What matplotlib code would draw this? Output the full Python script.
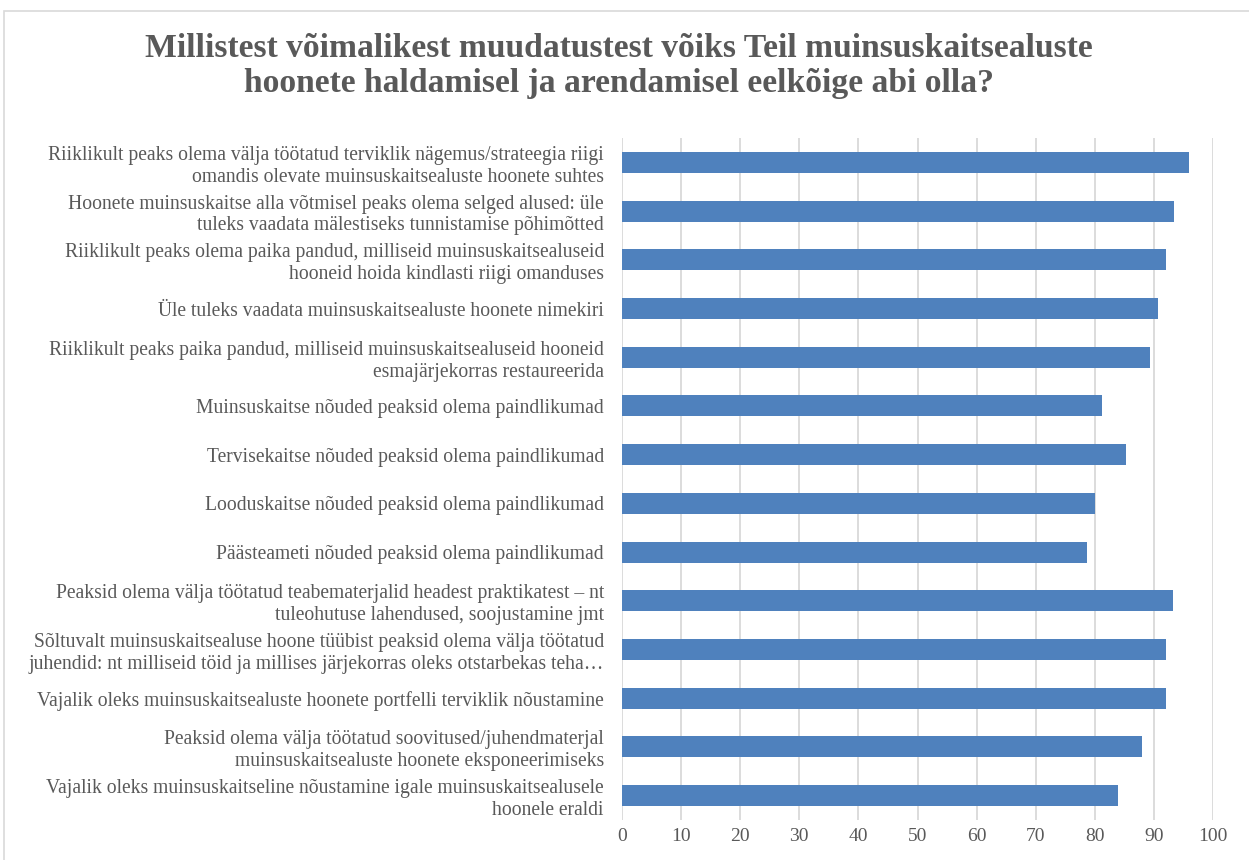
import matplotlib.pyplot as plt
from matplotlib.patches import Rectangle

categories = [
    "Riiklikult peaks olema välja töötatud terviklik nägemus/strateegia riigi\nomandis olevate muinsuskaitsealuste hoonete suhtes",
    "Hoonete muinsuskaitse alla võtmisel peaks olema selged alused: üle\ntuleks vaadata mälestiseks tunnistamise põhimõtted",
    "Riiklikult peaks olema paika pandud, milliseid muinsuskaitsealuseid\nhooneid hoida kindlasti riigi omanduses",
    "Üle tuleks vaadata muinsuskaitsealuste hoonete nimekiri",
    "Riiklikult peaks paika pandud, milliseid muinsuskaitsealuseid hooneid\nesmajärjekorras restaureerida",
    "Muinsuskaitse nõuded peaksid olema paindlikumad",
    "Tervisekaitse nõuded peaksid olema paindlikumad",
    "Looduskaitse nõuded peaksid olema paindlikumad",
    "Päästeameti nõuded peaksid olema paindlikumad",
    "Peaksid olema välja töötatud teabematerjalid headest praktikatest – nt\ntuleohutuse lahendused, soojustamine jmt",
    "Sõltuvalt muinsuskaitsealuse hoone tüübist peaksid olema välja töötatud\njuhendid: nt milliseid töid ja millises järjekorras oleks otstarbekas teha…",
    "Vajalik oleks muinsuskaitsealuste hoonete portfelli terviklik nõustamine",
    "Peaksid olema välja töötatud soovitused/juhendmaterjal\nmuinsuskaitsealuste hoonete eksponeerimiseks",
    "Vajalik oleks muinsuskaitseline nõustamine igale muinsuskaitsealusele\nhoonele eraldi",
]
values = [96.0, 93.4, 92.0, 90.7, 89.4, 81.2, 85.2, 80.0, 78.7, 93.3, 92.0, 92.0, 88.0, 84.0]
xticks = [0, 10, 20, 30, 40, 50, 60, 70, 80, 90, 100]
title = "Millistest võimalikest muudatustest võiks Teil muinsuskaitsealuste\nhoonete haldamisel ja arendamisel eelkõige abi olla?"

W, H = 1249, 860
fig = plt.figure(figsize=(W / 100, H / 100), dpi=100)
fig.patch.set_facecolor("white")

# chart frame
fig.add_artist(Rectangle((4 / W, -0.01), 1.1, (H - 11) / H + 0.01, transform=fig.transFigure,
                         fill=False, edgecolor="#D9D9D9", linewidth=1.2))

left, right = 622 / W, 1213 / W
bottom, top = 1 - 820 / H, 1 - 138 / H
ax = fig.add_axes([left, bottom, right - left, top - bottom])

text_color = "#595959"
serif = ["Liberation Serif", "DejaVu Serif"]

y = list(range(len(categories)))
ax.barh(y, values, height=0.43, color="#4F81BD", zorder=3)
ax.set_ylim(len(categories) - 0.5, -0.5)
ax.set_xlim(0, 100)
ax.set_xticks(xticks)
ax.set_xticklabels([str(t) for t in xticks], fontsize=14, color=text_color, family=serif)
ax.set_yticks(y)
ax.set_yticklabels(categories, fontsize=14.1, color=text_color, family=serif, linespacing=1.2)
ax.tick_params(axis="both", length=0)
ax.tick_params(axis="y", pad=13)
ax.tick_params(axis="x", pad=6)
ax.grid(axis="x", color="#D9D9D9", linewidth=1.3, zorder=0)
for s in ax.spines.values():
    s.set_visible(False)

fig.text(619 / W, 1 - 66 / H, title, ha="center", va="center", fontsize=24.2, fontweight="bold",
         color=text_color, family=serif, linespacing=1.15)

fig.savefig("out.png", dpi=100, facecolor="white")
